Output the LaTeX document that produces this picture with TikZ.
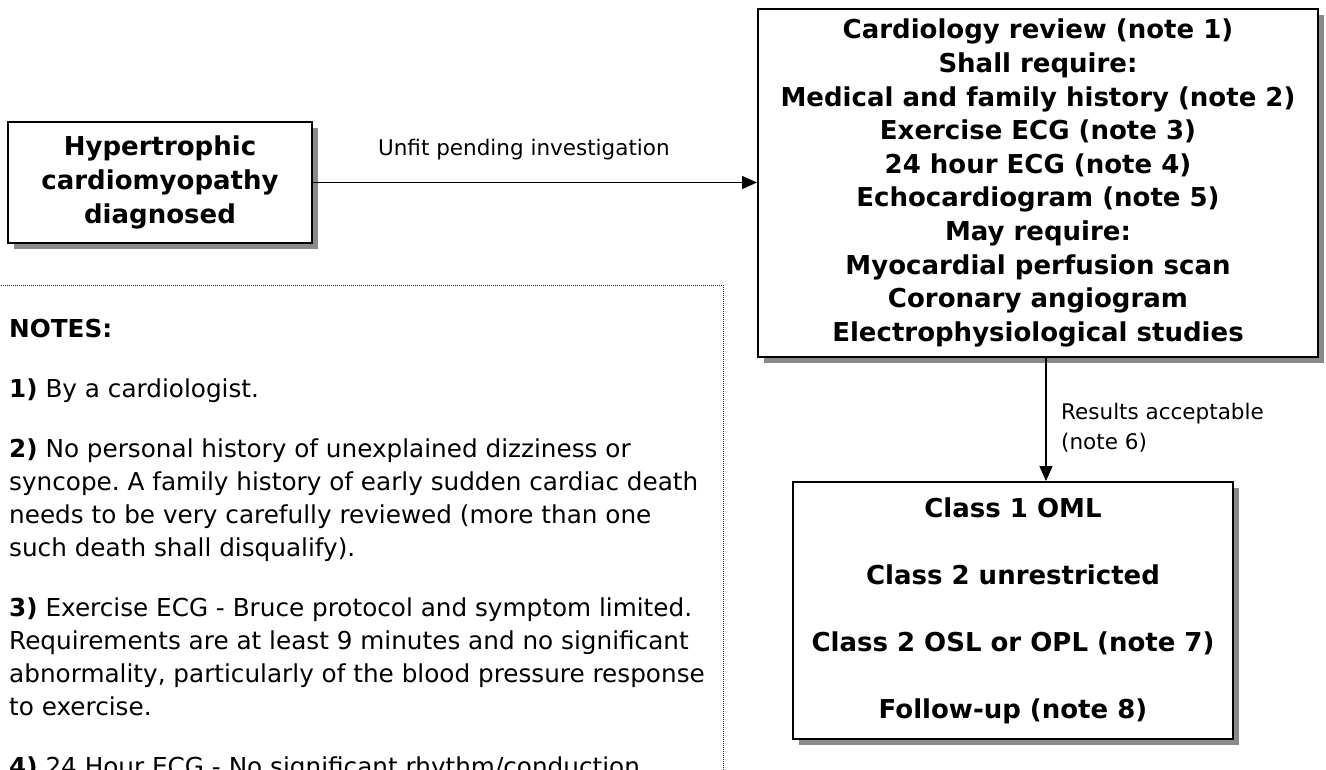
\documentclass[tikz,border=0pt]{standalone}
\usepackage{fontspec}
\setmainfont{DejaVu Sans}
\usetikzlibrary{arrows.meta,shadows}
\frenchspacing

\definecolor{shadowgrey}{RGB}{138,138,138}

\tikzset{
  box/.style={draw=black, line width=2pt, fill=white, rectangle, inner sep=0pt,
    align=center, font=\fontsize{26}{33.6}\selectfont\bfseries,
    drop shadow={shadow xshift=6pt, shadow yshift=-6pt, fill=shadowgrey, opacity=1}},
  arr/.style={draw=black, line width=1.5pt, -{Triangle[length=15pt,width=13pt]}},
  lbl/.style={inner sep=0pt, font=\fontsize{21.5}{29.5}\selectfont},
  notebox/.style={draw=black!85, line width=1pt, dash pattern=on 1pt off 1pt},
  notetext/.style={inner sep=0pt, align=left, font=\fontsize{24.7}{33}\selectfont}
}

\begin{document}
\begin{tikzpicture}[x=1pt, y=-1pt]
\useasboundingbox (0,0) rectangle (1326,769);
\clip (0,0) rectangle (1326,769);

% diagnosis box
\node[box, minimum width=304pt, minimum height=121pt] (hcm) at (160,182.5)
  {Hypertrophic\\cardiomyopathy\\diagnosed};

% investigations box
\node[box, minimum width=560pt, minimum height=348pt] (review) at (1038,183)
  {Cardiology review (note 1)\\Shall require:\\Medical and family history (note 2)\\
   Exercise ECG (note 3)\\24 hour ECG (note 4)\\Echocardiogram (note 5)\\
   May require:\\Myocardial perfusion scan\\Coronary angiogram\\
   Electrophysiological studies};

% outcome box
\node[box, minimum width=440pt, minimum height=257pt] (classes) at (1013,610.5)
  {Class 1 OML\\[33.4pt]Class 2 unrestricted\\[33.4pt]Class 2 OSL or OPL (note 7)\\[33.4pt]Follow-up (note 8)};

% connectors
\draw[arr] (hcm.east) -- (review.west |- hcm.east)
  node[lbl, pos=0.475, above=22pt] (unfit) {Unfit pending investigation};

\coordinate (vx) at (1046,0);
\draw[arr] (review.south -| vx) -- (classes.north -| vx);
\node[lbl, anchor=west, align=left] (accept) at (1061,427.5)
  {Results acceptable\\(note 6)};

% notes panel
\draw[notebox] (-10,285) rectangle (723,800);
\node[notetext, anchor=north west] (notes) at (9,318.5)
  {\textbf{NOTES:}\\[27pt]
   \textbf{1)} By a cardiologist.\\[27pt]
   \textbf{2)} No personal history of unexplained dizziness or\\
   syncope. A family history of early sudden cardiac death\\
   needs to be very carefully reviewed (more than one\\
   such death shall disqualify).\\[27pt]
   \textbf{3)} Exercise ECG - Bruce protocol and symptom limited.\\
   Requirements are at least 9 minutes and no significant\\
   abnormality, particularly of the blood pressure response\\
   to exercise.\\[27pt]
   \textbf{4)} 24 Hour ECG - No significant rhythm/conduction};
\end{tikzpicture}
\end{document}
